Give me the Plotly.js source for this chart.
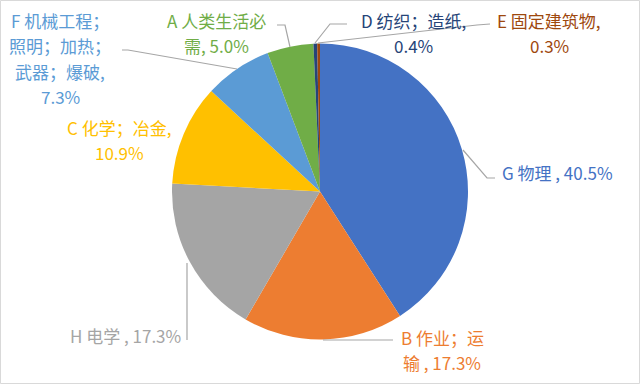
<!DOCTYPE html>
<html>
<head>
<meta charset="utf-8">
<script src="https://cdn.plot.ly/plotly-3.0.1.min.js"></script>
<style>html,body{margin:0;padding:0;background:#fff;}#chart{width:640px;height:384px;}</style>
</head>
<body>
<div id="chart"></div>
<script>
// Data (clockwise from 12 o'clock)
const categories = ['G 物理', 'B 作业；运输', 'H 电学', 'C 化学；冶金', 'F 机械工程；照明；加热；武器；爆破', 'A 人类生活必需', 'D 纺织；造纸', 'E 固定建筑物'];
const values = [40.5, 17.3, 17.3, 10.9, 7.3, 5.0, 0.4, 0.3];
const colors = ['#4472C4', '#ED7D31', '#A5A5A5', '#FFC000', '#5B9BD5', '#70AD47', '#264478', '#9E480E'];
// Label text split into displayed lines; percentage appended to the last line
const labelLines = [
  ['G 物理 , '],
  ['B 作业；运', '输 , '],
  ['H 电学 , '],
  ['C 化学；冶金,', ''],
  ['F 机械工程；', '照明；加热；', '武器；爆破,', ''],
  ['A 人类生活必', '需, '],
  ['D 纺织；造纸,', ''],
  ['E 固定建筑物,', '']
];

// Layout positions (pixels): label centre x, first line y
const labelPos = [[557, 172], [442, 337], [125, 335], [119, 127], [60, 20], [216, 20], [413, 20], [549, 20]];
const leaderPaths = [
  [[463,150],[487,178],[495,178]],
  [[323,340],[393,340]],
  [[187,263],[187,340]],
  null,
  [[122,50],[128,50],[237,69]],
  [[277,25],[285,25],[290,47]],
  [[315,43],[330,24],[347,24]],
  [[318,43],[477,25],[490,24]]
];
const W = 640, H = 384, LINE = 25.5;
const px = (x) => x / W, py = (y) => 1 - y / H;
const FONT = '"Noto Sans CJK SC", "Noto Sans", sans-serif';

const annotations = [];
labelLines.forEach((lines, i) => {
  lines.forEach((t, j) => {
    const text = (j === lines.length - 1) ? t + values[i].toFixed(1) + '%' : t;
    annotations.push({
      xref: 'paper', yref: 'paper',
      x: px(labelPos[i][0]), y: py(labelPos[i][1] + j * LINE),
      xanchor: 'center', yanchor: 'middle',
      text: text, showarrow: false,
      font: {family: FONT, size: 17, color: colors[i]}
    });
  });
});

const shapes = [];
leaderPaths.forEach((p) => {
  if (!p) return;
  const d = p.map((pt, k) => (k ? 'L' : 'M') + px(pt[0]) + ',' + py(pt[1])).join(' ');
  shapes.push({type: 'path', xref: 'paper', yref: 'paper', path: d, line: {color: '#A6A6A6', width: 1.2}});
});
shapes.push({type: 'rect', xref: 'paper', yref: 'paper', x0: px(0.5), x1: px(639.5), y0: py(383.5), y1: py(0.5), line: {color: '#D9D9D9', width: 1}});

const trace = {
  type: 'pie',
  labels: categories,
  values: values,
  sort: false,
  direction: 'clockwise',
  rotation: 0,
  marker: {colors: colors, line: {width: 0}},
  textinfo: 'none',
  hoverinfo: 'label+percent',
  domain: {x: [172/640, 468/640], y: [1 - 340/384, 1 - 43/384]}
};

Plotly.newPlot('chart', [trace], {
  width: W, height: H,
  margin: {l: 0, r: 0, t: 0, b: 0},
  paper_bgcolor: '#fff',
  showlegend: false,
  annotations: annotations,
  shapes: shapes
}, {displayModeBar: false, staticPlot: true});
</script>
</body>
</html>
